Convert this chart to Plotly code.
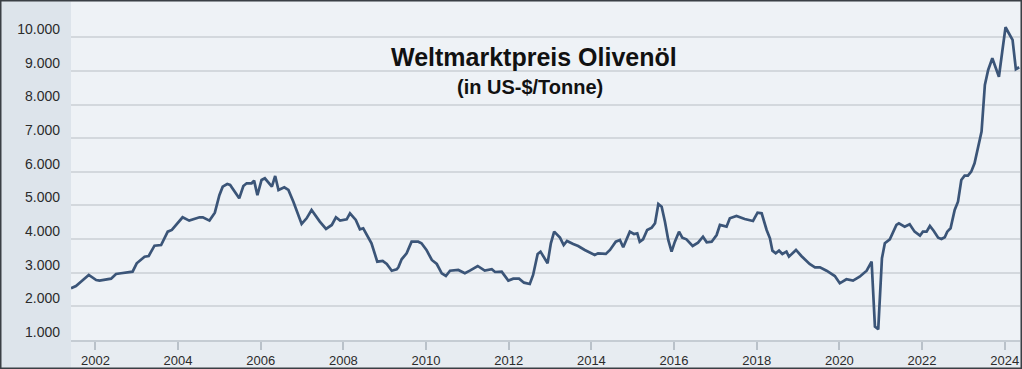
import plotly.graph_objects as go

# decimal years
years = [
    2001.41, 2001.53, 2001.65, 2001.84, 2002.02, 2002.10, 2002.38, 2002.50, 2002.62, 2002.90,
    2003.00, 2003.19, 2003.29, 2003.43, 2003.59, 2003.75, 2003.85, 2004.11, 2004.27, 2004.52,
    2004.60, 2004.76, 2004.89, 2005.00, 2005.08, 2005.19, 2005.26, 2005.38, 2005.48, 2005.58,
    2005.66, 2005.78, 2005.84, 2005.92, 2006.02, 2006.10, 2006.27, 2006.35, 2006.43, 2006.57,
    2006.67, 2006.79, 2006.87, 2006.99, 2007.11, 2007.23, 2007.43, 2007.58, 2007.72, 2007.82,
    2007.92, 2008.08, 2008.16, 2008.30, 2008.40, 2008.48, 2008.68, 2008.82, 2008.95, 2009.05,
    2009.17, 2009.29, 2009.33, 2009.41, 2009.53, 2009.65, 2009.81, 2009.89, 2010.01, 2010.14,
    2010.26, 2010.38, 2010.48, 2010.58, 2010.78, 2010.94, 2011.06, 2011.25, 2011.42, 2011.59,
    2011.67, 2011.83, 2011.99, 2012.11, 2012.25, 2012.37, 2012.51, 2012.59, 2012.70, 2012.77,
    2012.94, 2013.02, 2013.10, 2013.24, 2013.33, 2013.41, 2013.56, 2013.68, 2013.84, 2013.96,
    2014.08, 2014.16, 2014.35, 2014.45, 2014.59, 2014.69, 2014.77, 2014.93, 2015.03, 2015.11,
    2015.17, 2015.25, 2015.35, 2015.46, 2015.54, 2015.62, 2015.70, 2015.78, 2015.86, 2015.94,
    2016.02, 2016.12, 2016.20, 2016.30, 2016.45, 2016.58, 2016.70, 2016.79, 2016.91, 2017.03,
    2017.11, 2017.27, 2017.35, 2017.51, 2017.71, 2017.91, 2018.02, 2018.12, 2018.24, 2018.32,
    2018.38, 2018.46, 2018.54, 2018.62, 2018.72, 2018.78, 2018.95, 2019.08, 2019.16, 2019.28,
    2019.41, 2019.53, 2019.69, 2019.89, 2020.01, 2020.17, 2020.33, 2020.49, 2020.66, 2020.78,
    2020.86, 2020.94, 2021.03, 2021.10, 2021.22, 2021.38, 2021.44, 2021.58, 2021.70, 2021.82,
    2021.95, 2022.02, 2022.11, 2022.19, 2022.28, 2022.39, 2022.47, 2022.55, 2022.61, 2022.69,
    2022.79, 2022.87, 2022.95, 2023.03, 2023.11, 2023.19, 2023.27, 2023.35, 2023.44, 2023.52,
    2023.60, 2023.70, 2023.78, 2023.86, 2023.94, 2024.02, 2024.10, 2024.19, 2024.27, 2024.35,
]

prices = [
    2540, 2606, 2734, 2933, 2784, 2764, 2823, 2963, 2984, 3031,
    3281, 3477, 3498, 3804, 3825, 4221, 4271, 4649, 4550, 4649,
    4649, 4550, 4786, 5304, 5559, 5639, 5610, 5412, 5213, 5580,
    5660, 5660, 5739, 5304, 5758, 5808, 5559, 5877, 5461, 5540,
    5461, 5113, 4866, 4449, 4618, 4866, 4519, 4302, 4420, 4649,
    4550, 4589, 4768, 4569, 4291, 4321, 3875, 3329, 3349, 3260,
    3061, 3103, 3162, 3400, 3578, 3923, 3923, 3875, 3677, 3379,
    3260, 2984, 2903, 3061, 3082, 2984, 3061, 3201, 3061, 3103,
    3022, 3031, 2764, 2823, 2823, 2704, 2665, 2933, 3558, 3627,
    3281, 3875, 4221, 4043, 3825, 3944, 3855, 3796, 3677, 3598,
    3528, 3578, 3558, 3677, 3923, 3974, 3756, 4221, 4152, 4172,
    3923, 3994, 4271, 4340, 4470, 5044, 4965, 4519, 3974, 3627,
    3923, 4221, 4043, 3994, 3796, 3894, 4073, 3904, 3923, 4122,
    4420, 4371, 4619, 4688, 4599, 4539, 4787, 4767, 4271, 4024,
    3656, 3578, 3656, 3558, 3627, 3479, 3677, 3498, 3400, 3260,
    3162, 3162, 3061, 2903, 2686, 2805, 2764, 2883, 3061, 3329,
    1396, 1318, 3430, 3875, 3994, 4420, 4470, 4371, 4440, 4221,
    4102, 4221, 4221, 4390, 4250, 4043, 4004, 4053, 4221, 4321,
    4866, 5113, 5758, 5886, 5886, 6005, 6255, 6749, 7195, 8584,
    9030, 9377, 9126, 8829, 9571, 10299, 10121, 9922, 9050, 9109,
]

x_ticks = [2002, 2004, 2006, 2008, 2010, 2012, 2014, 2016, 2018, 2020, 2022, 2024]
y_ticks = [1000, 2000, 3000, 4000, 5000, 6000, 7000, 8000, 9000, 10000]
y_labels = ["1.000", "2.000", "3.000", "4.000", "5.000", "6.000", "7.000", "8.000", "9.000", "10.000"]

title_text = "Weltmarktpreis Olivenöl"
subtitle_text = "(in US-$/Tonne)"

W, H = 1022, 369
ML, MR, MT, MB = 71, 2, 2, 29
PW, PH = W - ML - MR, H - MT - MB

fig = go.Figure()
fig.add_trace(go.Scatter(
    x=years, y=prices, mode="lines",
    line=dict(color="#3b5578", width=2.7),
    hoverinfo="skip", showlegend=False,
))

fig.update_layout(
    width=W, height=H,
    margin=dict(l=ML, r=MR, t=MT, b=MB),
    paper_bgcolor="#e7ecf1",
    plot_bgcolor="#eef2f6",
    font=dict(family="Liberation Sans, Arial, sans-serif", color="#2b2b2b"),
    xaxis=dict(
        range=[2001.41, 2024.37],
        tickmode="array", tickvals=x_ticks, ticktext=[str(t) for t in x_ticks],
        showgrid=False, zeroline=False,
        showline=True, linecolor="#c5ccd3", linewidth=1.5,
        ticks="outside", ticklen=8, tickcolor="#b9c1c9", tickwidth=1.5,
        tickfont=dict(size=13, color="#2b2b2b"),
    ),
    yaxis=dict(
        range=[1000, 11050],
        tickmode="array", tickvals=y_ticks, ticktext=y_labels,
        showgrid=True, gridcolor="#d3d8dd", gridwidth=1.5,
        zeroline=False, showline=False,
        ticks="", ticklabelstandoff=10, ticklabelshift=-8,
        tickfont=dict(size=14, color="#2b2b2b"),
    ),
    shapes=[
        # left label panel
        dict(type="rect", xref="paper", yref="paper",
             x0=-ML / PW, x1=0, y0=-MB / PH, y1=1 + MT / PH,
             fillcolor="#dde4eb", line=dict(width=0), layer="below"),
        # title box covering gridlines
        dict(type="rect", xref="paper", yref="paper",
             x0=(370 - ML) / PW, x1=(698 - ML) / PW,
             y0=(340 - 104) / PH, y1=(340 - 42) / PH,
             fillcolor="#eef2f6", line=dict(width=0), layer="between"),
        # outer frame
        dict(type="rect", xref="paper", yref="paper",
             x0=-ML / PW + 0.5 / PW, x1=1 + (MR - 0.5) / PW,
             y0=-MB / PH + 0.5 / PH, y1=1 + (MT - 0.5) / PH,
             line=dict(color="#3a3f45", width=2), fillcolor="rgba(0,0,0,0)", layer="above"),
    ],
    annotations=[
        dict(text="<b>" + title_text + "</b>", xref="paper", yref="paper",
             x=(534 - ML) / PW, y=(340 - 57) / PH, showarrow=False,
             xanchor="center", yanchor="middle",
             font=dict(size=25, color="#111111", family="Liberation Sans, Arial, sans-serif")),
        dict(text="<b>" + subtitle_text + "</b>", xref="paper", yref="paper",
             x=(530 - ML) / PW, y=(340 - 87) / PH, showarrow=False,
             xanchor="center", yanchor="middle",
             font=dict(size=20, color="#111111", family="Liberation Sans, Arial, sans-serif")),
    ],
)

fig.write_html("out.html", config={"displayModeBar": False},
               post_script="document.body.style.margin='0';")
